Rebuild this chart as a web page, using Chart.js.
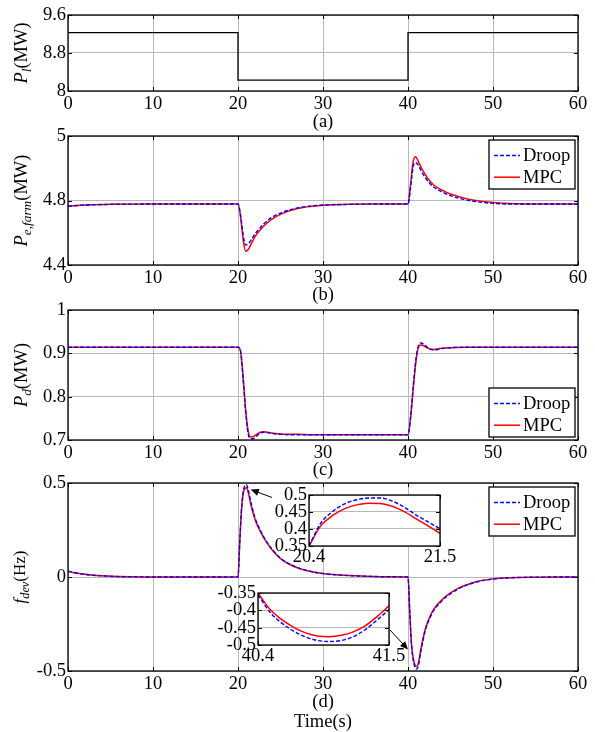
<!DOCTYPE html>
<html>
<head>
<meta charset="utf-8">
<script src="https://cdn.jsdelivr.net/npm/chart.js@4.4.1/dist/chart.umd.min.js"></script>
<style>
  html, body { margin: 0; padding: 0; background: #fff; }
  #fig { position: relative; width: 595px; height: 732px; overflow: hidden; background: #fff; }
  #fig canvas { position: absolute; left: 0; }
</style>
</head>
<body>
<div id="fig">
  <canvas id="chartA" width="595" height="132" style="top:0px"></canvas>
  <canvas id="chartB" width="595" height="185" style="top:120px"></canvas>
  <canvas id="chartC" width="595" height="185" style="top:295px"></canvas>
  <canvas id="chartD" width="595" height="264" style="top:468px"></canvas>
  <canvas id="insetUp" width="210" height="90" style="left:250px;top:480px"></canvas>
  <canvas id="insetDown" width="210" height="90" style="left:200px;top:578px"></canvas>
</div>
<script>
// ---- data ----
const seriesNames = ['Droop', 'MPC'];

const xTicks  = [0, 10, 20, 30, 40, 50, 60];
const xLabels = ['0', '10', '20', '30', '40', '50', '60'];

// (a) load power
const yTicksA  = [8, 8.8, 9.6];
const yLabelsA = ['8', '8.8', '9.6'];
const timeA = [0, 20, 20, 40, 40, 60];
const loadA = [9.23, 9.23, 8.23, 8.23, 9.23, 9.23];

// (b) wind farm power (axis labels as printed on the figure)
const yTicksB  = [4.6, 4.8, 5.0];
const yLabelsB = ['4.4', '4.8', '5'];
const timeB  = [0, 2, 5, 10, 15, 20, 20.3, 20.6, 20.9, 21.2, 21.6, 22, 22.5, 23, 24, 25, 27, 30, 33, 36,
                40, 40.3, 40.6, 40.9, 41.2, 41.6, 42, 42.5, 43, 44, 45, 47, 50, 53, 56, 60];
const droopB = [4.782, 4.786, 4.788, 4.789, 4.789, 4.789, 4.755, 4.695, 4.662, 4.665, 4.68, 4.697, 4.712, 4.727, 4.748, 4.761, 4.777, 4.786, 4.788, 4.789,
                4.789, 4.84, 4.905, 4.918, 4.91, 4.89, 4.872, 4.855, 4.842, 4.827, 4.815, 4.801, 4.791, 4.789, 4.789, 4.789];
const mpcB   = [4.782, 4.786, 4.788, 4.789, 4.789, 4.789, 4.75, 4.68, 4.643, 4.648, 4.668, 4.688, 4.705, 4.72, 4.742, 4.757, 4.775, 4.785, 4.788, 4.789,
                4.789, 4.85, 4.92, 4.936, 4.922, 4.9, 4.882, 4.863, 4.849, 4.832, 4.82, 4.805, 4.794, 4.79, 4.789, 4.789];

// (c) diesel power
const yTicksC  = [0.7, 0.8, 0.9, 1];
const yLabelsC = ['0.7', '0.8', '0.9', '1'];
const timeC  = [0, 5, 10, 15, 20, 20.3, 20.6, 20.9, 21.2, 21.5, 21.8, 22.2, 22.6, 23, 23.5, 24, 25, 27, 30, 35,
                40, 40.3, 40.6, 40.9, 41.2, 41.5, 41.8, 42.2, 42.6, 43, 43.5, 44, 45, 47, 50, 55, 60];
const droopC = [0.914, 0.914, 0.914, 0.914, 0.914, 0.905, 0.843, 0.765, 0.714, 0.703, 0.703, 0.709, 0.716, 0.718, 0.717, 0.715, 0.713, 0.712, 0.712, 0.712,
                0.712, 0.752, 0.82, 0.882, 0.915, 0.924, 0.922, 0.915, 0.909, 0.908, 0.909, 0.911, 0.913, 0.914, 0.914, 0.914, 0.914];
const mpcC   = [0.914, 0.914, 0.914, 0.914, 0.914, 0.905, 0.845, 0.77, 0.72, 0.707, 0.708, 0.713, 0.718, 0.719, 0.718, 0.716, 0.714, 0.713, 0.712, 0.712,
                0.712, 0.75, 0.815, 0.875, 0.912, 0.919, 0.918, 0.913, 0.91, 0.909, 0.91, 0.912, 0.913, 0.914, 0.914, 0.914, 0.914];

// (d) frequency deviation
const yTicksD  = [-0.5, 0, 0.5];
const yLabelsD = ['-0.5', '0', '0.5'];
const timeD  = [0, 1, 2, 3, 4, 6, 8, 10, 15, 20, 20.2, 20.4, 20.6, 20.8, 21, 21.2, 21.5, 22, 22.5, 23, 24, 25, 26, 27, 28,
                30, 32, 35, 38, 40, 40.2, 40.4, 40.6, 40.8, 41, 41.2, 41.5, 42, 42.5, 43, 44, 45, 46, 47, 48, 50, 52, 55, 58, 60];
const droopD = [0.03, 0.021, 0.014, 0.009, 0.006, 0.002, 0.001, 0, 0, 0, 0.18, 0.35, 0.452, 0.486, 0.491, 0.464, 0.401, 0.315, 0.26, 0.215, 0.148, 0.1, 0.07, 0.05, 0.036,
                0.018, 0.01, 0.004, 0.001, 0, -0.18, -0.355, -0.437, -0.477, -0.49, -0.476, -0.398, -0.29, -0.225, -0.18, -0.126, -0.089, -0.061, -0.042, -0.027, -0.011, -0.004, -0.001, 0, 0];
const mpcD   = [0.03, 0.021, 0.014, 0.009, 0.006, 0.002, 0.001, 0, 0, 0, 0.18, 0.35, 0.44, 0.471, 0.475, 0.451, 0.387, 0.306, 0.254, 0.211, 0.145, 0.098, 0.069, 0.049, 0.035,
                0.018, 0.01, 0.004, 0.001, 0, -0.18, -0.35, -0.427, -0.465, -0.476, -0.462, -0.387, -0.282, -0.218, -0.174, -0.121, -0.085, -0.058, -0.04, -0.025, -0.01, -0.004, -0.001, 0, 0];

// zoomed insets of (d)
const timeUp   = [20.4, 20.5, 20.6, 20.7, 20.8, 20.9, 21.0, 21.1, 21.2, 21.3, 21.4, 21.5];
const droopUp  = [0.35, 0.418, 0.452, 0.474, 0.486, 0.491, 0.491, 0.482, 0.464, 0.441, 0.421, 0.401];
const mpcUp    = [0.35, 0.41, 0.44, 0.46, 0.471, 0.476, 0.475, 0.467, 0.451, 0.43, 0.409, 0.387];
const xTicksUp = [20.4, 21.5];
const yTicksUp = [0.35, 0.4, 0.45, 0.5];
const yLabelsUp = ['0.35', '0.4', '0.45', '0.5'];

const timeDown   = [40.4, 40.5, 40.6, 40.7, 40.8, 40.9, 41.0, 41.1, 41.2, 41.3, 41.4, 41.5];
const droopDown  = [-0.355, -0.405, -0.437, -0.46, -0.477, -0.487, -0.49, -0.487, -0.476, -0.456, -0.428, -0.398];
const mpcDown    = [-0.35, -0.397, -0.427, -0.449, -0.465, -0.474, -0.476, -0.472, -0.462, -0.445, -0.418, -0.387];
const xTicksDown = [40.4, 41.5];
const yTicksDown = [-0.5, -0.45, -0.4, -0.35];
const yLabelsDown = ['-0.5', '-0.45', '-0.4', '-0.35'];

// arrows from the insets to the peaks (data coordinates of panel d)
const arrowUp   = { from: [24.0, 0.423], to: [21.5, 0.465] };
const arrowDown = { from: [37.7, -0.273], to: [40.0, -0.385] };

// ---- style ----
const FONT = '"Liberation Serif", "Times New Roman", serif';
const FS = 18.5;
const GRID = '#b8b8b8';

function pts(ts, vs) { return ts.map((t, i) => ({ x: t, y: vs[i] })); }

function droopSet(ts, vs) {
  return { label: seriesNames[0], data: pts(ts, vs), borderColor: '#0000ff', borderDash: [4, 2],
           borderWidth: 1.4, cubicInterpolationMode: 'monotone', pointRadius: 0 };
}
function mpcSet(ts, vs) {
  return { label: seriesNames[1], data: pts(ts, vs), borderColor: '#ff0000',
           borderWidth: 1.5, cubicInterpolationMode: 'monotone', pointRadius: 0 };
}

function drawArrow(ctx, x1, y1, x2, y2) {
  const a = Math.atan2(y2 - y1, x2 - x1), L = 8, W = 3.5;
  ctx.beginPath();
  ctx.moveTo(x1, y1);
  ctx.lineTo(x2 - L * 0.8 * Math.cos(a), y2 - L * 0.8 * Math.sin(a));
  ctx.stroke();
  ctx.beginPath();
  ctx.moveTo(x2, y2);
  ctx.lineTo(x2 - L * Math.cos(a) + W * Math.sin(a), y2 - L * Math.sin(a) - W * Math.cos(a));
  ctx.lineTo(x2 - L * Math.cos(a) - W * Math.sin(a), y2 - L * Math.sin(a) + W * Math.cos(a));
  ctx.closePath();
  ctx.fill();
}

// box, inner ticks, y title, legend, arrows
function decor(o) {
  return {
    id: 'decor',
    beforeDraw(chart) {
      if (!o.fillArea) return;
      const { ctx, chartArea: a } = chart;
      ctx.save();
      ctx.fillStyle = '#fff';
      ctx.fillRect(a.left, a.top, a.right - a.left, a.bottom - a.top);
      ctx.restore();
    },
    afterDraw(chart) {
      const { ctx, chartArea: a, scales } = chart;
      ctx.save();
      ctx.strokeStyle = '#000';
      ctx.fillStyle = '#000';
      ctx.lineWidth = 1;
      ctx.beginPath();
      scales.x.ticks.forEach(t => {
        const p = Math.round(scales.x.getPixelForValue(t.value)) + 0.5;
        ctx.moveTo(p, a.bottom); ctx.lineTo(p, a.bottom - 4);
        ctx.moveTo(p, a.top); ctx.lineTo(p, a.top + 4);
      });
      scales.y.ticks.forEach(t => {
        const p = Math.round(scales.y.getPixelForValue(t.value)) + 0.5;
        ctx.moveTo(a.left, p); ctx.lineTo(a.left + 4, p);
        ctx.moveTo(a.right, p); ctx.lineTo(a.right - 4, p);
      });
      ctx.stroke();
      ctx.lineWidth = 1.3;
      ctx.strokeRect(a.left, a.top, a.right - a.left, a.bottom - a.top);

      // y-axis title with italic subscripts
      if (o.yTitle) {
        const big = o.yTitleSize || FS, small = big * 0.72;
        const fontOf = p => (p.it ? 'italic ' : '') + (p.sub ? small : big) + 'px ' + FONT;
        const widths = o.yTitle.map(p => { ctx.font = fontOf(p); return ctx.measureText(p.t).width; });
        const total = widths.reduce((s, w) => s + w, 0);
        ctx.save();
        ctx.translate(o.yTitleX, (a.top + a.bottom) / 2);
        ctx.rotate(-Math.PI / 2);
        ctx.textAlign = 'left';
        ctx.textBaseline = 'alphabetic';
        let cx = -total / 2;
        o.yTitle.forEach((p, i) => {
          ctx.font = fontOf(p);
          ctx.fillText(p.t, cx, p.sub ? 4 : 0);
          cx += widths[i];
        });
        ctx.restore();
      }

      // legend box
      if (o.legend) {
        const w = 86, h = 49;
        const left = a.right - 3 - w;
        const top = o.legend === 'top' ? a.top + 4 : a.bottom - 3 - h;
        ctx.fillStyle = '#fff';
        ctx.fillRect(left, top, w, h);
        ctx.lineWidth = 1.3;
        ctx.strokeStyle = '#000';
        ctx.strokeRect(left, top, w, h);
        ctx.font = FS + 'px ' + FONT;
        ctx.textBaseline = 'middle';
        ctx.textAlign = 'left';
        chart.data.datasets.forEach((ds, i) => {
          const cy = top + 15 + i * 21.7;
          ctx.save();
          ctx.strokeStyle = ds.borderColor;
          ctx.lineWidth = ds.borderWidth;
          ctx.setLineDash(ds.borderDash || []);
          ctx.beginPath();
          ctx.moveTo(left + 5, cy + 0.5);
          ctx.lineTo(left + 31, cy + 0.5);
          ctx.stroke();
          ctx.restore();
          ctx.fillStyle = '#000';
          ctx.fillText(ds.label, left + 34, cy + 1);
        });
      }

      // arrows
      if (o.arrows) {
        ctx.strokeStyle = '#000';
        ctx.fillStyle = '#000';
        ctx.lineWidth = 1;
        o.arrows.forEach(ar => {
          drawArrow(ctx,
            scales.x.getPixelForValue(ar.from[0]), scales.y.getPixelForValue(ar.from[1]),
            scales.x.getPixelForValue(ar.to[0]), scales.y.getPixelForValue(ar.to[1]));
        });
      }
      ctx.restore();
    }
  };
}

function makeChart(id, o) {
  const tickFont = { family: FONT, size: FS };
  return new Chart(document.getElementById(id), {
    type: 'line',
    data: { datasets: o.datasets },
    options: {
      responsive: false,
      animation: false,
      events: [],
      layout: { padding: { top: o.padTop, right: o.padRight, left: 0, bottom: 0 } },
      plugins: { legend: { display: false }, tooltip: { enabled: false } },
      scales: {
        x: {
          type: 'linear', min: o.xMin, max: o.xMax,
          afterBuildTicks: s => { s.ticks = o.xTicks.map(v => ({ value: v })); },
          afterFit: s => { s.height = o.xHeight; },
          ticks: { autoSkip: false, maxRotation: 0, padding: o.xPad, color: '#000', font: tickFont,
                   callback: (v, i) => o.xLabels[i] },
          grid: { color: GRID, lineWidth: 1, drawTicks: false },
          border: { display: false },
          title: { display: !!o.title, text: o.title || '', color: '#000', padding: 0,
                   font: { family: FONT, size: FS, lineHeight: 20 / FS } }
        },
        y: {
          type: 'linear', min: o.yMin, max: o.yMax,
          afterBuildTicks: s => { s.ticks = o.yTicks.map(v => ({ value: v })); },
          afterFit: s => { s.width = o.yWidth; },
          ticks: { autoSkip: false, padding: 2, color: '#000', font: tickFont,
                   callback: (v, i) => o.yLabels[i] },
          grid: { color: GRID, lineWidth: 1, drawTicks: false },
          border: { display: false }
        }
      }
    },
    plugins: [decor(o)]
  });
}

// (a)
makeChart('chartA', {
  datasets: [{ label: 'Pl', data: pts(timeA, loadA), borderColor: '#000', borderWidth: 1.3, pointRadius: 0, tension: 0 }],
  xMin: 0, xMax: 60, xTicks, xLabels, yMin: 8, yMax: 9.6, yTicks: yTicksA, yLabels: yLabelsA,
  padTop: 15, padRight: 17, yWidth: 68, xHeight: 41, xPad: 2, title: '(a)',
  yTitle: [{ t: 'P', it: 1 }, { t: 'l', it: 1, sub: 1 }, { t: '(MW)' }], yTitleX: 26.5
});

// (b)
makeChart('chartB', {
  datasets: [droopSet(timeB, droopB), mpcSet(timeB, mpcB)],
  xMin: 0, xMax: 60, xTicks, xLabels, yMin: 4.6, yMax: 5.0, yTicks: yTicksB, yLabels: yLabelsB,
  padTop: 16, padRight: 17, yWidth: 68, xHeight: 40, xPad: 2, title: '(b)',
  yTitle: [{ t: 'P', it: 1 }, { t: 'e,farm', it: 1, sub: 1 }, { t: '(MW)' }], yTitleX: 26.5,
  legend: 'top'
});

// (c)
makeChart('chartC', {
  datasets: [droopSet(timeC, droopC), mpcSet(timeC, mpcC)],
  xMin: 0, xMax: 60, xTicks, xLabels, yMin: 0.7, yMax: 1, yTicks: yTicksC, yLabels: yLabelsC,
  padTop: 15, padRight: 17, yWidth: 68, xHeight: 40, xPad: 2, title: '(c)',
  yTitle: [{ t: 'P', it: 1 }, { t: 'd', it: 1, sub: 1 }, { t: '(MW)' }], yTitleX: 26.5,
  legend: 'bottom'
});

// (d)
makeChart('chartD', {
  datasets: [droopSet(timeD, droopD), mpcSet(timeD, mpcD)],
  xMin: 0, xMax: 60, xTicks, xLabels, yMin: -0.5, yMax: 0.5, yTicks: yTicksD, yLabels: yLabelsD,
  padTop: 15, padRight: 17, yWidth: 68, xHeight: 61, xPad: 2, title: ['(d)', 'Time(s)'],
  yTitle: [{ t: 'f', it: 1 }, { t: 'dev', it: 1, sub: 1 }, { t: '(Hz)' }], yTitleX: 25, yTitleSize: 17,
  legend: 'top', arrows: [arrowUp, arrowDown]
});

// insets
makeChart('insetUp', {
  datasets: [droopSet(timeUp, droopUp), mpcSet(timeUp, mpcUp)],
  xMin: 20.4, xMax: 21.5, xTicks: xTicksUp, xLabels: ['20.4', '21.5'],
  yMin: 0.35, yMax: 0.5, yTicks: yTicksUp, yLabels: yLabelsUp,
  padTop: 15, padRight: 20, yWidth: 59, xHeight: 24, xPad: 0, fillArea: true
});
makeChart('insetDown', {
  datasets: [droopSet(timeDown, droopDown), mpcSet(timeDown, mpcDown)],
  xMin: 40.4, xMax: 41.5, xTicks: xTicksDown, xLabels: ['40.4', '41.5'],
  yMin: -0.5, yMax: -0.35, yTicks: yTicksDown, yLabels: yLabelsDown,
  padTop: 15, padRight: 21, yWidth: 58, xHeight: 23, xPad: 0, fillArea: true
});
</script>
</body>
</html>
